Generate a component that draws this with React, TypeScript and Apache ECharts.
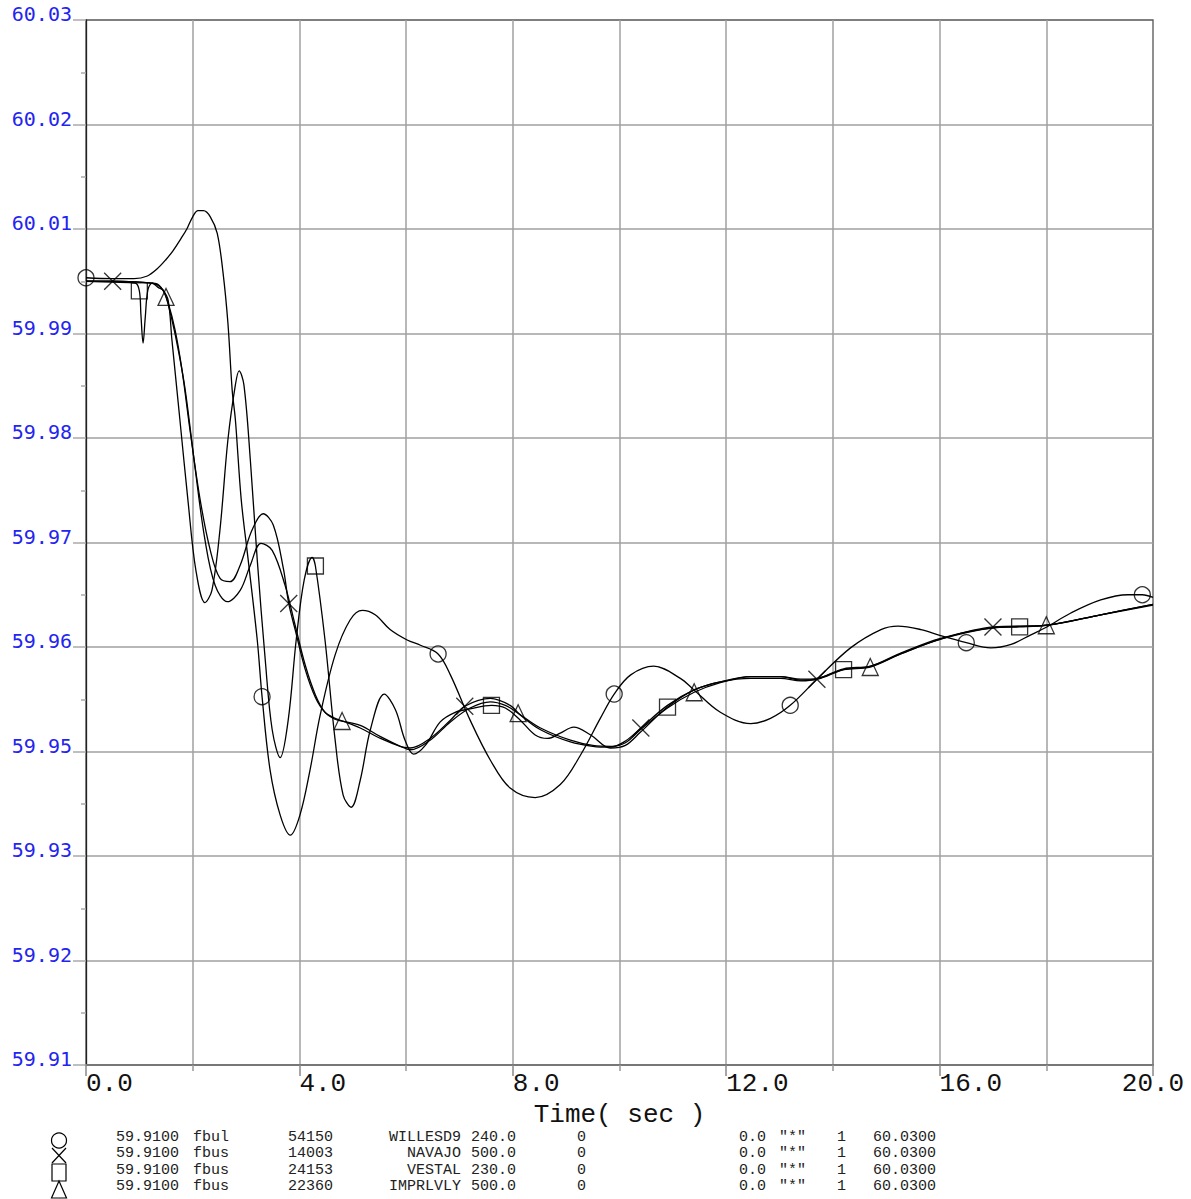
import React, { useEffect, useRef } from "react";
import * as echarts from "echarts";

// ---- data (time in s, frequency in Hz) ----
const WILLESD9: [number, number][] = [
  [0, 60.0004], [0.5, 60.0003], [0.9, 60.0003], [1.15, 60.0006], [1.33, 60.0014], [1.5, 60.0025],
  [1.63, 60.0035], [1.78, 60.0049], [1.89, 60.006], [2.0, 60.0074], [2.1, 60.0081], [2.2, 60.0081],
  [2.33, 60.0074], [2.46, 60.0055], [2.57, 60.0009], [2.66, 59.9952],
  [2.74, 59.9875], [2.8, 59.9841], [2.91, 59.9749], [3.04, 59.968], [3.21, 59.9588], [3.3, 59.9523],
  [3.45, 59.9439], [3.64, 59.9387], [3.83, 59.9364], [4.01, 59.9387], [4.2, 59.9439], [4.39, 59.9502],
  [4.67, 59.9571], [4.95, 59.9611], [5.18, 59.9622], [5.42, 59.9617], [5.7, 59.96], [6.02, 59.9588],
  [6.27, 59.9582], [6.6, 59.9572], [6.83, 59.9548], [7.2, 59.9496], [7.58, 59.945], [7.95, 59.9418],
  [8.42, 59.9407], [8.89, 59.9422], [9.27, 59.9456], [9.64, 59.9498], [9.9, 59.9526], [10.21, 59.9548],
  [10.64, 59.9558], [11.14, 59.9544], [11.39, 59.9531], [11.89, 59.9505], [12.46, 59.9492], [12.83, 59.9498],
  [13.2, 59.9513], [13.7, 59.9543], [14.33, 59.9579], [14.9, 59.96], [15.22, 59.9604], [15.65, 59.96],
  [16.02, 59.9593], [16.5, 59.9585], [16.96, 59.9579], [17.34, 59.9583], [17.71, 59.9594], [18.01, 59.9603],
  [18.46, 59.9619], [19.02, 59.9634], [19.53, 59.964], [19.8, 59.964], [20, 59.9637],
];

const NAVAJO: [number, number][] = [
  [0, 60.0], [0.5, 60.0], [1.0, 59.9999], [1.2, 59.9998], [1.33, 59.9996], [1.44, 59.999],
  [1.54, 59.9975], [1.67, 59.9944], [1.8, 59.9898], [1.95, 59.9829], [2.14, 59.9749], [2.33, 59.9691],
  [2.51, 59.9659], [2.7, 59.9655], [2.89, 59.9674], [3.11, 59.9714], [3.32, 59.9733], [3.51, 59.972],
  [3.7, 59.967], [3.8, 59.963], [3.92, 59.96], [4.11, 59.9554], [4.3, 59.9522], [4.48, 59.9505],
  [4.67, 59.9498], [4.86, 59.9494], [5.14, 59.9487], [5.52, 59.9475], [5.89, 59.9466], [6.08, 59.9464],
  [6.45, 59.9475], [6.83, 59.9496], [7.1, 59.9512], [7.58, 59.9521], [7.95, 59.9513], [8.14, 59.9502],
  [8.52, 59.9485], [9.08, 59.9471], [9.5, 59.9466], [9.83, 59.9465], [10.11, 59.9472], [10.4, 59.9487],
  [10.9, 59.9513], [11.41, 59.9531], [11.89, 59.954], [12.46, 59.9544], [13.02, 59.9544], [13.4, 59.9541],
  [13.7, 59.9543], [14.2, 59.9555], [14.71, 59.9558], [15.27, 59.9572], [16.02, 59.9589], [17.0, 59.9603],
  [18.01, 59.9605], [19.02, 59.9617], [20, 59.9629],
];

const VESTAL: [number, number][] = [
  [0, 60.0], [0.5, 59.9999], [0.92, 59.9998], [1.0, 59.9989], [1.03, 59.9961], [1.07, 59.9929],
  [1.11, 59.9958], [1.16, 59.999], [1.24, 59.9998], [1.35, 59.9993], [1.44, 59.999], [1.54, 59.9978],
  [1.61, 59.9933], [1.76, 59.9841], [1.91, 59.9749], [2.06, 59.9668], [2.23, 59.9631], [2.36, 59.9645],
  [2.51, 59.9714], [2.66, 59.9818], [2.8, 59.9881], [2.87, 59.9897], [2.96, 59.9881], [3.08, 59.9795],
  [3.21, 59.968], [3.36, 59.9565], [3.49, 59.9485], [3.64, 59.9453], [3.79, 59.9496], [3.94, 59.9588],
  [4.09, 59.9657], [4.24, 59.9683], [4.3, 59.9673], [4.48, 59.9588], [4.67, 59.9473], [4.82, 59.941],
  [4.97, 59.9396], [5.14, 59.9427], [5.33, 59.9485], [5.59, 59.9526], [5.8, 59.9508], [5.98, 59.9473],
  [6.14, 59.9457], [6.36, 59.9467], [6.64, 59.9494], [6.92, 59.9505], [7.2, 59.9509], [7.6, 59.9513],
  [7.86, 59.951], [8.14, 59.9496], [8.42, 59.9479], [8.65, 59.9475], [8.89, 59.9481], [9.14, 59.9488],
  [9.46, 59.9479], [9.83, 59.9464], [10.11, 59.9467], [10.39, 59.9482], [10.9, 59.9511], [11.41, 59.9531],
  [11.89, 59.954], [12.46, 59.9546], [13.02, 59.9546], [13.4, 59.9542], [13.7, 59.9543], [14.2, 59.9554],
  [14.71, 59.9558], [15.27, 59.9573], [16.02, 59.959], [17.0, 59.9602], [17.5, 59.9603], [18.01, 59.9605],
  [19.02, 59.9617], [20, 59.9629],
];

const IMPRLVLY: [number, number][] = [
  [0, 60.0], [0.5, 60.0], [1.0, 59.9999], [1.2, 59.9998], [1.33, 59.9997], [1.44, 59.999],
  [1.5, 59.9982], [1.61, 59.9956], [1.73, 59.9921], [1.86, 59.9875], [2.05, 59.9783], [2.23, 59.9703],
  [2.42, 59.9651], [2.65, 59.9632], [2.89, 59.9645], [3.08, 59.9674], [3.28, 59.9699], [3.49, 59.9691],
  [3.73, 59.9651], [3.92, 59.9605], [4.11, 59.9559], [4.3, 59.9525], [4.48, 59.9505], [4.67, 59.9497],
  [4.8, 59.9495], [5.14, 59.949], [5.52, 59.9477], [5.89, 59.9466], [6.08, 59.9462], [6.45, 59.9473],
  [6.83, 59.9494], [7.2, 59.951], [7.58, 59.9517], [7.86, 59.9513], [8.1, 59.9504], [8.52, 59.9487],
  [9.08, 59.9473], [9.5, 59.9467], [9.85, 59.9466], [10.11, 59.947], [10.39, 59.9485], [10.9, 59.951],
  [11.4, 59.9528], [11.89, 59.9539], [12.46, 59.9546], [13.02, 59.9546], [13.4, 59.9543], [13.7, 59.9544],
  [14.2, 59.9554], [14.7, 59.9557], [15.27, 59.9572], [16.02, 59.9589], [17.0, 59.9602], [18.0, 59.9605],
  [19.02, 59.9617], [20, 59.9628],
];

// marker times along each trace
const CIRCLE_T = [0, 3.3, 6.6, 9.9, 13.2, 16.5, 19.8];
const CROSS_T = [0.5, 3.8, 7.1, 10.4, 13.7, 17.0];
const SQUARE_T = [1.0, 4.3, 7.6, 10.9, 14.2, 17.5];
const TRIANGLE_T = [1.5, 4.8, 8.1, 11.4, 14.7, 18.0];

// axes
const X_MIN = 0;
const X_MAX = 20;
const X_STEP = 4;
const Y_MIN = 59.91;
const Y_MAX = 60.03;
const Y_STEP = 0.012;

// legend table
const LEG_BASE = ["59.9100", "59.9100", "59.9100", "59.9100"];
const LEG_KIND = ["fbul", "fbus", "fbus", "fbus"];
const LEG_BUS = ["54150", "14003", "24153", "22360"];
const LEG_NAME = ["WILLESD9", "NAVAJO", "VESTAL", "IMPRLVLY"];
const LEG_KV = ["240.0", "500.0", "230.0", "500.0"];
const LEG_ZERO = ["0", "0", "0", "0"];
const LEG_OFF = ["0.0", "0.0", "0.0", "0.0"];
const LEG_STAR = ['"*"', '"*"', '"*"', '"*"'];
const LEG_ONE = ["1", "1", "1", "1"];
const LEG_MAX = ["60.0300", "60.0300", "60.0300", "60.0300"];

const pick = (data: [number, number][], times: number[]) =>
  times.map((t) => data.find((d) => Math.abs(d[0] - t) < 1e-9) as [number, number]);

const MONO = "Liberation Mono";

export default function App() {
  const ref = useRef<HTMLDivElement>(null);

  useEffect(() => {
    if (!ref.current) return;
    const chart = echarts.init(ref.current, null, { renderer: "svg" });

    const lineStyle = { color: "#000", width: 1.3 };
    const mk = { color: "rgba(0,0,0,0)", borderColor: "#000", borderWidth: 1.3 };
    const lineSeries = (name: string, data: [number, number][]) => ({
      type: "line",
      name,
      data,
      smooth: 0.35,
      symbol: "none",
      lineStyle,
      silent: true,
      z: 2,
    });
    const markSeries = (data: [number, number][], symbol: string, size: number | number[]) => ({
      type: "scatter",
      data,
      symbol,
      symbolSize: size,
      itemStyle: mk,
      silent: true,
      z: 3,
    });

    const rowY = [1137, 1153.5, 1170, 1186];
    const txt = (x: number, y: number, s: string, align: string = "left") => ({
      type: "text",
      x,
      y,
      silent: true,
      style: {
        text: s,
        fill: "#222",
        font: `15px "${MONO}"`,
        align,
        verticalAlign: "middle",
      },
    });
    const legendTexts: any[] = [];
    for (let i = 0; i < 4; i++) {
      const y = rowY[i];
      legendTexts.push(
        txt(116, y, LEG_BASE[i]),
        txt(193, y, LEG_KIND[i]),
        txt(288, y, LEG_BUS[i]),
        txt(461, y, LEG_NAME[i], "right"),
        txt(471, y, LEG_KV[i]),
        txt(577, y, LEG_ZERO[i]),
        txt(739, y, LEG_OFF[i]),
        txt(779, y, LEG_STAR[i]),
        txt(837, y, LEG_ONE[i]),
        txt(873, y, LEG_MAX[i])
      );
    }
    const symStyle = { fill: "none", stroke: "#000", lineWidth: 1.2 };
    const legendSymbols: any[] = [
      { type: "circle", shape: { cx: 59, cy: 1140.5, r: 7.5 }, style: symStyle, silent: true },
      { type: "line", shape: { x1: 52, y1: 1148, x2: 66, y2: 1163 }, style: symStyle, silent: true },
      { type: "line", shape: { x1: 66, y1: 1148, x2: 52, y2: 1163 }, style: symStyle, silent: true },
      { type: "rect", shape: { x: 52, y: 1164, width: 14, height: 17 }, style: symStyle, silent: true },
      {
        type: "polygon",
        shape: { points: [[59, 1181], [51.5, 1198], [66.5, 1198]] },
        style: symStyle,
        silent: true,
      },
    ];

    const gridLine = { color: "#a0a0a0", width: 1.5 };

    chart.setOption({
      animation: false,
      backgroundColor: "#fff",
      grid: {
        left: 86,
        right: 38,
        top: 20,
        bottom: 134,
        show: true,
        borderColor: "#555",
        borderWidth: 1.3,
        backgroundColor: "transparent",
      },
      xAxis: {
        type: "value",
        min: X_MIN,
        max: X_MAX,
        interval: X_STEP,
        name: "Time( sec )",
        nameLocation: "middle",
        nameGap: 36,
        nameTextStyle: {
          fontFamily: MONO,
          fontSize: 26,
          color: "#111",
          verticalAlign: "middle",
          lineHeight: 20,
        },
        axisLine: { show: true, lineStyle: { color: "#777", width: 2 } },
        axisTick: { show: true, length: 11, lineStyle: { color: "#888", width: 1.5 } },
        minorTick: { show: true, splitNumber: 2, length: 6, lineStyle: { color: "#999", width: 1.5 } },
        splitLine: { show: true, showMinLine: false, showMaxLine: false, lineStyle: gridLine },
        minorSplitLine: { show: true, lineStyle: gridLine },
        axisLabel: {
          formatter: (v: number) => v.toFixed(1),
          fontFamily: MONO,
          fontSize: 26,
          color: "#111",
          align: "left",
          alignMaxLabel: "center",
          verticalAlign: "middle",
          lineHeight: 20,
          margin: 19,
        },
      },
      yAxis: {
        type: "value",
        min: Y_MIN,
        max: Y_MAX,
        interval: Y_STEP,
        axisLine: { show: true, lineStyle: { color: "#222", width: 1.3 } },
        axisTick: { show: true, length: 13, lineStyle: { color: "#aaa", width: 1.5 } },
        minorTick: { show: true, splitNumber: 2, length: 5, lineStyle: { color: "#aaa", width: 1.5 } },
        splitLine: { show: true, showMinLine: false, showMaxLine: false, lineStyle: gridLine },
        axisLabel: {
          formatter: (v: number) => v.toFixed(2),
          fontFamily: "DejaVu Sans Mono",
          fontSize: 20,
          color: "#2424f0",
          align: "right",
          verticalAlign: "bottom",
          lineHeight: 12,
          margin: 14,
        },
      },
      series: [
        lineSeries("WILLESD9", WILLESD9),
        lineSeries("NAVAJO", NAVAJO),
        lineSeries("VESTAL", VESTAL),
        lineSeries("IMPRLVLY", IMPRLVLY),
        markSeries(pick(WILLESD9, CIRCLE_T), "circle", 16),
        markSeries(pick(NAVAJO, CROSS_T), "path://M0,0L10,10M10,0L0,10", 17),
        markSeries(pick(VESTAL, SQUARE_T), "rect", 16),
        markSeries(pick(IMPRLVLY, TRIANGLE_T), "triangle", [16, 17]),
      ],
      graphic: { elements: [...legendSymbols, ...legendTexts] },
    });

    return () => chart.dispose();
  }, []);

  return (
    <div
      ref={ref}
      style={{ position: "absolute", left: 0, top: 0, width: 1191, height: 1199, background: "#fff" }}
    />
  );
}
